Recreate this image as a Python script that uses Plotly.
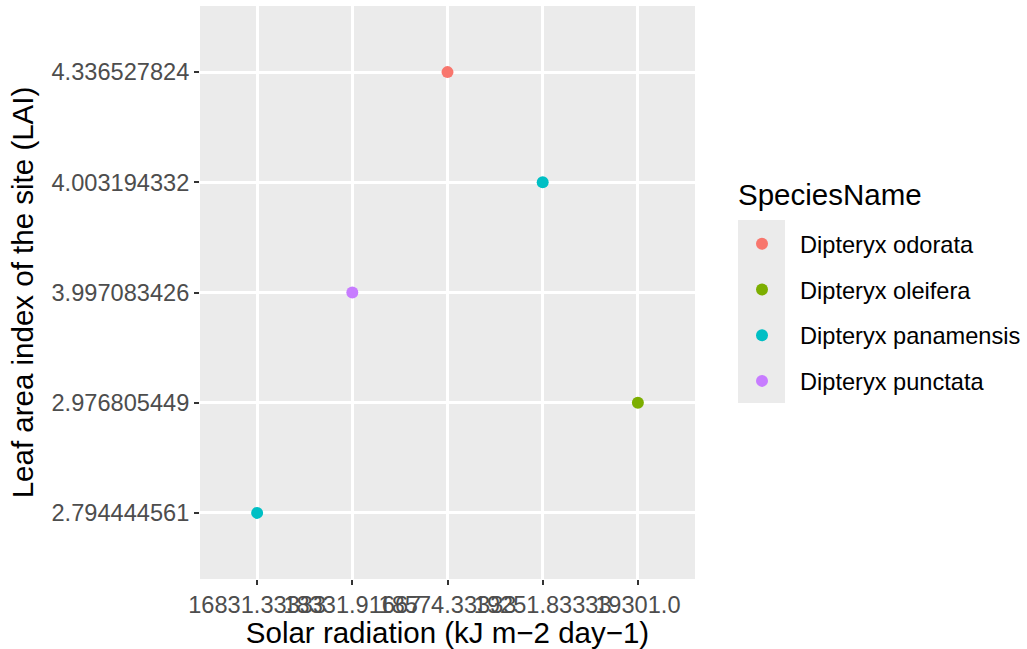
import plotly.graph_objects as go

# data
x_categories = ["16831.33333", "18331.91667", "18574.33333", "19251.83333", "19301.0"]
y_categories = ["2.794444561", "2.976805449", "3.997083426", "4.003194332", "4.336527824"]
species = ["Dipteryx odorata", "Dipteryx oleifera", "Dipteryx panamensis", "Dipteryx punctata"]
colors = ["#F8766D", "#7CAE00", "#00BFC4", "#C77CFF"]
point_species = ["Dipteryx odorata", "Dipteryx panamensis", "Dipteryx punctata", "Dipteryx oleifera", "Dipteryx panamensis"]
point_x = ["18574.33333", "19251.83333", "18331.91667", "19301.0", "16831.33333"]
point_y = ["4.336527824", "4.003194332", "3.997083426", "2.976805449", "2.794444561"]

FONT = "Liberation Sans, Arial, sans-serif"

fig = go.Figure()
for sp, col in zip(species, colors):
    xs = [x for x, s in zip(point_x, point_species) if s == sp]
    ys = [y for y, s in zip(point_y, point_species) if s == sp]
    fig.add_trace(go.Scatter(
        x=xs, y=ys, mode="markers", name=sp, legendgroup=sp,
        marker=dict(color=col, size=12, line=dict(width=0)),
    ))

# legend key background
fig.add_shape(type="rect", xref="paper", yref="paper",
              x0=(738 - 200) / 495, x1=(785 - 200) / 495,
              y0=(579 - 403) / 573, y1=(579 - 220) / 573,
              fillcolor="#EBEBEB", line=dict(width=0), layer="below")

fig.add_annotation(text="SpeciesName", xref="paper", yref="paper",
                   x=(736 - 200) / 495, y=(579 - 195) / 573,
                   xanchor="left", yanchor="middle", showarrow=False,
                   font=dict(family=FONT, size=29.5, color="#000000"))

fig.update_layout(
    width=1027, height=649, autosize=False,
    margin=dict(l=200, r=332, t=6, b=70, autoexpand=False),
    paper_bgcolor="#FFFFFF", plot_bgcolor="#EBEBEB",
    font=dict(family=FONT, color="#000000"),
    showlegend=True,
    legend=dict(
        x=(724 - 200) / 495, y=(579 - 222) / 573, xanchor="left", yanchor="top",
        bgcolor="rgba(0,0,0,0)", itemwidth=66, tracegroupgap=12,
        font=dict(family=FONT, size=23.6, color="#000000"),
        itemclick=False,
    ),
    xaxis=dict(
        type="category", categoryorder="array", categoryarray=x_categories,
        range=[-0.6, 4.6], showgrid=True, gridcolor="#FFFFFF", gridwidth=2.5,
        zeroline=False, showline=False,
        ticks="outside", ticklen=5, tickwidth=2, tickcolor="#333333",
        tickangle=0,
        tickfont=dict(family=FONT, size=23.6, color="#4D4D4D"),
        title=dict(text="Solar radiation (kJ m\u22122 day\u22121)",
                   font=dict(family=FONT, size=29.5, color="#000000"), standoff=6),
        automargin=False,
    ),
    yaxis=dict(
        type="category", categoryorder="array", categoryarray=y_categories,
        range=[-0.6, 4.6], showgrid=True, gridcolor="#FFFFFF", gridwidth=2.5,
        zeroline=False, showline=False,
        ticks="outside", ticklen=5, tickwidth=2, tickcolor="#333333",
        tickfont=dict(family=FONT, size=23.6, color="#4D4D4D"),
        title=dict(text="Leaf area index of the site (LAI)",
                   font=dict(family=FONT, size=29.5, color="#000000"), standoff=9),
        automargin=False,
    ),
)

fig.write_html(
    "out.html",
    config={"responsive": False, "displayModeBar": False},
    post_script="document.body.style.margin='0px';document.body.style.overflow='hidden';",
)
